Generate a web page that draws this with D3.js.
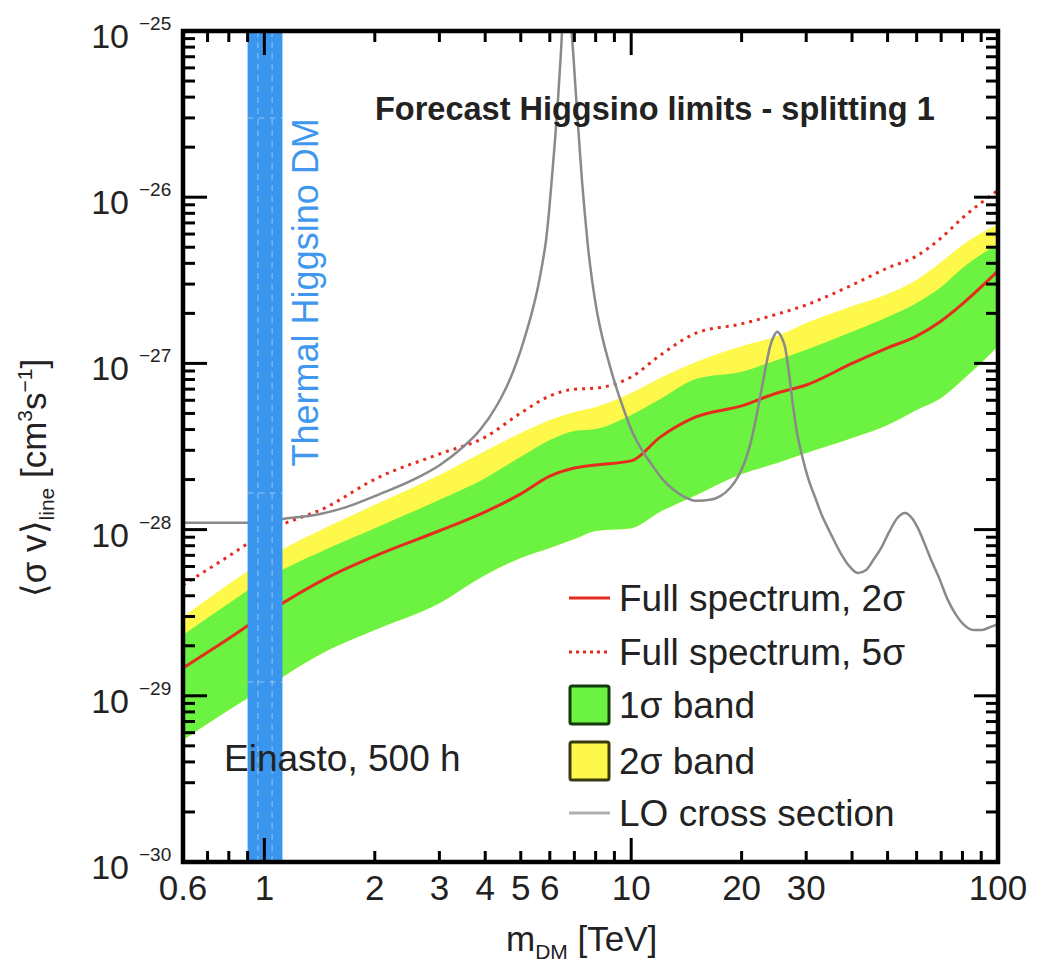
<!DOCTYPE html>
<html>
<head>
<meta charset="utf-8">
<script src="https://cdn.jsdelivr.net/npm/d3@7"></script>
<style>
  html, body { margin: 0; padding: 0; background: #fff; }
  svg { display: block; font-family: "Liberation Sans", Arial, Helvetica, sans-serif; }
</style>
</head>
<body>
<svg id="chart" width="1037" height="963"></svg>
<script>
// ---------------- data ----------------
const massGrid = [0.6, 0.8, 1, 1.5, 2, 3, 4, 5, 6, 7, 8, 10, 12, 15, 20, 25, 30, 40, 50, 60, 70, 80, 100];
const median2sigma = [1.47e-29, 2.21e-29, 3.08e-29, 5.2e-29, 6.93e-29, 9.84e-29, 1.28e-28, 1.64e-28, 2.1e-28, 2.35e-28, 2.45e-28, 2.59e-28, 3.6e-28, 4.76e-28, 5.55e-28, 6.64e-28, 7.41e-28, 1.0e-27, 1.24e-27, 1.46e-27, 1.8e-27, 2.28e-27, 3.6e-27];
const limit5sigma = [4.64e-29, 6.93e-29, 9.55e-29, 1.39e-28, 2.01e-28, 2.85e-28, 3.6e-28, 5.03e-28, 6.37e-28, 7.0e-28, 7.1e-28, 8.28e-28, 1.12e-27, 1.52e-27, 1.73e-27, 1.98e-27, 2.25e-27, 2.96e-27, 3.75e-27, 4.43e-27, 5.69e-27, 7.5e-27, 1.10e-26];
const band1Low = [5.42e-30, 8.22e-30, 1.11e-29, 1.89e-29, 2.49e-29, 3.61e-29, 5.33e-29, 6.75e-29, 7.74e-29, 8.77e-29, 9.82e-29, 1.02e-28, 1.28e-28, 1.61e-28, 2.16e-28, 2.52e-28, 2.89e-28, 3.56e-28, 4.26e-28, 5.25e-28, 6.19e-28, 7.94e-28, 1.27e-27];
const band1High = [2.32e-29, 3.61e-29, 4.98e-29, 7.74e-29, 1.02e-28, 1.51e-28, 2.04e-28, 2.74e-28, 3.46e-28, 3.92e-28, 4.03e-28, 4.9e-28, 6.1e-28, 8.05e-28, 8.9e-28, 1.05e-27, 1.21e-27, 1.55e-27, 1.9e-27, 2.31e-27, 2.88e-27, 3.75e-27, 5.22e-27];
const band2High = [2.98e-29, 4.71e-29, 6.56e-29, 1.05e-28, 1.41e-28, 2.13e-28, 2.97e-28, 3.81e-28, 4.56e-28, 5.1e-28, 5.47e-28, 6.64e-28, 8.17e-28, 1.02e-27, 1.27e-27, 1.46e-27, 1.75e-27, 2.21e-27, 2.62e-27, 3.18e-27, 4.07e-27, 5.15e-27, 6.9e-27];

const loMass = [0.6, 0.886, 1.124, 1.418, 1.68, 2.07, 2.54, 3.01, 3.48, 3.87,
  4.31, 4.53, 4.76, 4.98, 5.20, 5.40, 5.57, 5.71, 5.86, 5.97, 6.08, 6.20, 6.32, 6.44, 6.64,
  6.81, 6.94, 7.07, 7.21, 7.34, 7.48, 7.62, 7.82, 8.07, 8.38, 8.75, 9.15, 9.62, 10.1, 10.7, 11.4, 12.1, 13.0, 14.0, 15.1,
  16.4, 17.5, 18.6, 19.6, 20.4, 21.2, 21.9, 22.6, 23.3, 23.9, 24.5, 25.0, 25.6, 26.3, 26.9, 27.6, 28.3, 29.2, 30.3,
  31.7, 33.1, 34.8, 37.1, 39.5, 41.5, 43.7, 45.9, 48.0, 50.5, 53.1, 55.8, 58.3, 60.5, 63.3, 66.1, 69.1, 72.6, 76.9, 80.8, 85.5, 90.5, 95.1, 100];
const loSigmaV = [1.10e-28, 1.10e-28, 1.16e-28, 1.24e-28, 1.37e-28, 1.64e-28, 1.99e-28, 2.45e-28, 3.14e-28, 3.97e-28,
  5.62e-28, 6.92e-28, 8.87e-28, 1.17e-27, 1.59e-27, 2.15e-27, 2.88e-27, 3.85e-27, 5.52e-27, 8.15e-27, 1.31e-26, 2.21e-26, 3.95e-26, 7.69e-26, 2.6e-25,
  1.34e-25, 7.69e-26, 4.12e-26, 2.21e-26, 1.27e-26, 7.82e-27, 5.08e-27, 3.18e-27, 2.04e-27, 1.38e-27, 9.64e-28, 6.92e-28, 5.03e-28, 3.81e-28, 3.01e-28, 2.45e-28, 2.04e-28, 1.75e-28, 1.57e-28, 1.49e-28,
  1.51e-28, 1.59e-28, 1.78e-28, 2.10e-28, 2.55e-28, 3.37e-28, 4.69e-28, 6.73e-28, 9.64e-28, 1.26e-27, 1.46e-27, 1.55e-27, 1.46e-27, 1.24e-27, 8.87e-28, 5.62e-28, 3.86e-28, 2.81e-28, 2.07e-28,
  1.57e-28, 1.22e-28, 9.68e-29, 7.33e-29, 5.96e-29, 5.48e-29, 5.71e-29, 6.65e-29, 7.74e-29, 9.68e-29, 1.17e-28, 1.26e-28, 1.17e-28, 1.02e-28, 8.07e-29, 6.38e-29, 5.12e-29, 3.87e-29, 3.06e-29, 2.67e-29, 2.49e-29, 2.49e-29, 2.59e-29, 2.70e-29];

const thermalRange = [0.9, 1.12];           // TeV
const xDomain = [0.6, 100];
const yDomain = [1e-30, 1e-25];
const xTickLabelValues = [0.6, 1, 2, 3, 4, 5, 6, 10, 20, 30, 100];
const xTickLabels = ["0.6", "1", "2", "3", "4", "5", "6", "10", "20", "30", "100"];
const yDecades = [-30, -29, -28, -27, -26, -25];
const legendLabels = ["Full spectrum, 2\u03c3", "Full spectrum, 5\u03c3", "1\u03c3 band", "2\u03c3 band", "LO cross section"];
const titleText = "Forecast Higgsino limits - splitting 1";
const haloText = "Einasto, 500 h";
const thermalText = "Thermal Higgsino DM";

// ---------------- layout ----------------
const L = 183, R = 998, T = 31, B = 862;
const svg = d3.select("#chart");
const x = d3.scaleLog().domain(xDomain).range([L, R]);
const y = d3.scaleLog().domain(yDomain).range([B, T]);

const COL = {
  green: "#6cf342", yellow: "#fdf84a", red: "#e52d1d", gray: "#8a8a8a",
  blue: "#3a95ec", blueText: "#3f98ee", text: "#222"
};

svg.append("defs").append("clipPath").attr("id", "plotClip")
  .append("rect").attr("x", L).attr("y", T).attr("width", R - L).attr("height", B - T);

const plot = svg.append("g").attr("clip-path", "url(#plotClip)");

const grid = massGrid.map((m, i) => ({
  m, med: median2sigma[i], s5: limit5sigma[i], lo1: band1Low[i], hi1: band1High[i], hi2: band2High[i]
}));

const area = (lo, hi) => d3.area().curve(d3.curveMonotoneX)
  .x(d => x(d.m)).y0(d => y(d[lo])).y1(d => y(d[hi]));

plot.append("path").datum(grid).attr("d", area("lo1", "hi2")).attr("fill", COL.yellow);
plot.append("path").datum(grid).attr("d", area("lo1", "hi1")).attr("fill", COL.green);

const lineOf = key => d3.line().curve(d3.curveMonotoneX).x(d => x(d.m)).y(d => y(d[key]));
plot.append("path").datum(grid).attr("d", lineOf("med"))
  .attr("fill", "none").attr("stroke", COL.red).attr("stroke-width", 3);
plot.append("path").datum(grid).attr("d", lineOf("s5"))
  .attr("fill", "none").attr("stroke", COL.red).attr("stroke-width", 3)
  .attr("stroke-dasharray", "3 5");

const loData = loMass.map((m, i) => ({ m, v: loSigmaV[i] }));
plot.append("path").datum(loData)
  .attr("d", d3.line().curve(d3.curveMonotoneX).x(d => x(d.m)).y(d => y(d.v)))
  .attr("fill", "none").attr("stroke", COL.gray).attr("stroke-width", 2.5);

// thermal Higgsino band
const bx0 = x(thermalRange[0]), bx1 = x(thermalRange[1]);
plot.append("rect").attr("x", bx0).attr("y", T).attr("width", bx1 - bx0).attr("height", B - T)
  .attr("fill", COL.blue);
const bandG = plot.append("g").attr("stroke", "#fff").attr("stroke-opacity", 0.3)
  .attr("stroke-width", 1.5).attr("stroke-dasharray", "6 5");
[0.96, 1.05].forEach(m => bandG.append("line").attr("x1", x(m)).attr("x2", x(m)).attr("y1", T).attr("y2", B));
[3e-26, 1.66e-28, 1.21e-29].forEach(v => bandG.append("line").attr("x1", bx0).attr("x2", bx1).attr("y1", y(v)).attr("y2", y(v)));

svg.append("text").attr("transform", `translate(318,${y(2.4e-28)}) rotate(-90)`)
  .attr("font-size", 36).attr("fill", COL.blueText).text(thermalText);

// title & halo label
svg.append("text").attr("x", 375).attr("y", 120).attr("font-size", 32.5).attr("font-weight", "bold")
  .attr("fill", COL.text).text(titleText);
svg.append("text").attr("x", 224).attr("y", 771).attr("font-size", 37).attr("fill", COL.text).text(haloText);

// ---------------- axes / frame ----------------
const axG = svg.append("g").attr("stroke", "#000");
const minorX = [];
[0.1, 1, 10].forEach(d => { for (let k = 2; k <= 9; k++) { const v = k * d; if (v > 0.6 && v < 100) minorX.push(v); } });
const majorX = [1, 10];
const minorY = [];
yDecades.forEach(e => { for (let k = 2; k <= 9; k++) { const v = k * Math.pow(10, e); if (v < 1e-25) minorY.push(v); } });
const majorY = yDecades.map(e => Math.pow(10, e));

function tickX(v, len) {
  axG.append("line").attr("x1", x(v)).attr("x2", x(v)).attr("y1", B).attr("y2", B - len).attr("stroke-width", 3);
  axG.append("line").attr("x1", x(v)).attr("x2", x(v)).attr("y1", T).attr("y2", T + len).attr("stroke-width", 3);
}
function tickY(v, len) {
  axG.append("line").attr("y1", y(v)).attr("y2", y(v)).attr("x1", L).attr("x2", L + len).attr("stroke-width", 3);
  axG.append("line").attr("y1", y(v)).attr("y2", y(v)).attr("x1", R).attr("x2", R - len).attr("stroke-width", 3);
}
minorX.forEach(v => tickX(v, 11));
majorX.forEach(v => tickX(v, 24));
minorY.forEach(v => tickY(v, 12));
majorY.forEach(v => tickY(v, 24));

svg.append("rect").attr("x", L).attr("y", T).attr("width", R - L).attr("height", B - T)
  .attr("fill", "none").attr("stroke", "#000").attr("stroke-width", 4.5);

// x tick labels
svg.append("g").selectAll("text").data(xTickLabelValues).join("text")
  .attr("x", d => x(d)).attr("y", 900).attr("text-anchor", "middle")
  .attr("font-size", 35).attr("fill", COL.text).text((d, i) => xTickLabels[i]);

// y tick labels
const yl = svg.append("g").attr("fill", COL.text);
yDecades.forEach(e => {
  const yy = y(Math.pow(10, e));
  yl.append("text").attr("x", 129).attr("y", yy + 17).attr("text-anchor", "end").attr("font-size", 34).text("10");
  yl.append("text").attr("x", 139).attr("y", yy - 1).attr("font-size", 19).text("\u2212" + Math.abs(e));
});

// axis titles
const xt = svg.append("text").attr("x", 506).attr("y", 951).attr("font-size", 35).attr("fill", COL.text);
xt.append("tspan").text("m");
xt.append("tspan").attr("font-size", 21).attr("dy", 8).text("DM");
xt.append("tspan").attr("dy", -8).text(" [TeV]");

const yt = svg.append("text").attr("transform", `translate(46,478) rotate(-90)`)
  .attr("text-anchor", "middle").attr("font-size", 35).attr("fill", COL.text);
yt.append("tspan").text("\u27e8\u03c3 v\u27e9");
yt.append("tspan").attr("font-size", 21).attr("dy", 8).text("line");
yt.append("tspan").attr("dy", -8).text(" [cm");
yt.append("tspan").attr("font-size", 21).attr("dy", -14).text("3");
yt.append("tspan").attr("dy", 14).text("s");
yt.append("tspan").attr("font-size", 21).attr("dy", -14).text("\u22121");
yt.append("tspan").attr("dy", 14).text("]");

// ---------------- legend ----------------
const legRows = [598, 652, 705, 761, 813];
const lg = svg.append("g");
legendLabels.forEach((lab, i) => {
  const ry = legRows[i];
  if (i === 0 || i === 1 || i === 4) {
    lg.append("line").attr("x1", 569).attr("x2", 610).attr("y1", ry).attr("y2", ry)
      .attr("stroke", i === 4 ? "#b0b0b0" : COL.red).attr("stroke-width", 3)
      .attr("stroke-dasharray", i === 1 ? "3 4" : null);
  } else {
    lg.append("rect").attr("x", 570).attr("y", ry - 19).attr("width", 39).attr("height", 38)
      .attr("rx", 2).attr("fill", i === 2 ? COL.green : COL.yellow)
      .attr("stroke", i === 2 ? "#133a0a" : "#3a3a10").attr("stroke-width", 3);
  }
  lg.append("text").attr("x", 619).attr("y", ry + 13).attr("font-size", 37).attr("fill", COL.text).text(lab);
});
</script>
</body>
</html>
